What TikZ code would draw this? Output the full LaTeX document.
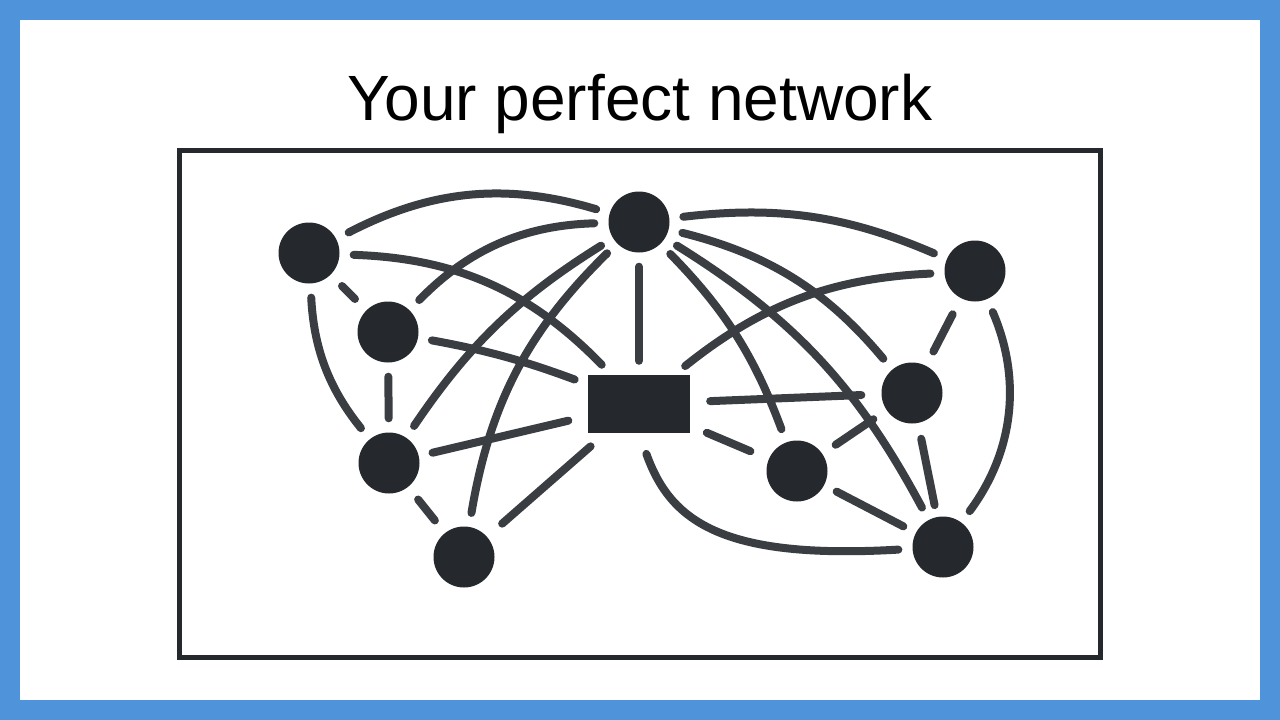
\documentclass[tikz,border=0pt]{standalone}
\usepackage{fontspec}
\setmainfont{Liberation Sans}
\begin{document}
\begin{tikzpicture}[x=1pt,y=-1pt,
  dot/.style={circle,fill=ink,minimum size=61pt,inner sep=0pt},
  ed/.style={draw=edg,line width=8pt,line cap=round,shorten <=14pt,shorten >=14pt}]
\definecolor{ink}{HTML}{25282C}
\definecolor{edg}{HTML}{3A3D42}
\definecolor{frame}{HTML}{4F93DA}
\fill[frame] (0,0) rectangle (1280,720);
\fill[white] (20,20) rectangle (1260,700);
\useasboundingbox (0,0) rectangle (1280,720);
\node (title) at (640,104) {\fontsize{64}{66}\selectfont Your perfect network};
\draw[ink,line width=5pt] (179,150) rectangle (1100,657);
\node[dot] (A) at (309,253) {};
\node[dot] (B) at (388,332) {};
\node[dot] (C) at (389,463) {};
\node[dot] (D) at (464,557) {};
\node[dot] (E) at (639,222) {};
\node[dot] (F) at (975,271) {};
\node[dot] (G) at (912,393) {};
\node[dot] (H) at (797,471) {};
\node[dot] (I) at (943,547) {};
\node[fill=ink,minimum width=102pt,minimum height=58pt,inner sep=0pt] (R) at (639,404) {};
\draw[ed] (A) to[bend left=22] (E);
\draw[ed,shorten <=16pt,shorten >=16pt] (A) -- (B);
\draw[ed] (A) to[bend right=18] (C);
\draw[ed] (A) to[bend left=22] (R);
\draw[ed] (B) -- (C);
\draw[ed] (B) to[bend left=22] (E);
\draw[ed] (C) to[bend left=12] (E);
\draw[ed] (D) to[bend left=18] (E);
\draw[ed] (B) to[bend left=5] (R);
\draw[ed,shorten >=20pt] (C) -- (R);
\draw[ed,shorten <=20pt,shorten >=20pt] (D) -- (R);
\draw[ed,shorten <=16pt,shorten >=16pt] (C) -- (D);
\draw[ed] (E) -- (R);
\draw[ed] (E) to[bend left=15] (F);
\draw[ed] (E) to[bend left=18] (G);
\draw[ed] (E) to[bend left=12] (H);
\draw[ed] (E) to[bend left=15] (I);
\draw[ed] (F) to[bend right=18] (R);
\draw[ed,shorten <=18pt,shorten >=16pt] (F) -- (G);
\draw[ed] (F) to[bend left=30] (I);
\draw[ed,shorten <=20pt,shorten >=20pt] (G) -- (R);
\draw[ed,shorten <=16pt,shorten >=16pt] (G) -- (H);
\draw[ed,shorten <=16pt,shorten >=12pt] (G) -- (I);
\draw[ed,shorten <=14pt,shorten >=14pt] (H) -- (I);
\draw[ed,shorten <=18pt,shorten >=20pt] (R) -- (H);
\draw[ed,shorten <=22pt] (R.south) .. controls (670,520) and (720,560) .. (I);
\end{tikzpicture}
\end{document}
